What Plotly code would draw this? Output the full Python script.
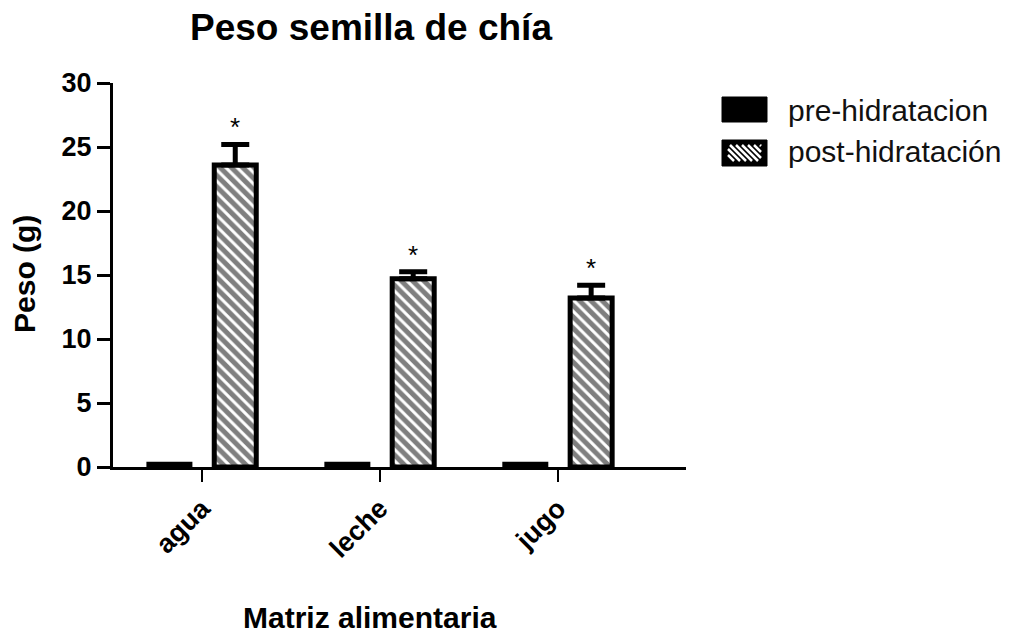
import plotly.graph_objects as go

# Chia seed weight per food matrix, before and after hydration
categories = ["agua", "leche", "jugo"]
pre_hidratacion = [0.25, 0.25, 0.25]
post_hidratacion = [23.6, 14.7, 13.2]
post_sem = [1.6, 0.55, 1.0]
significance = ["*", "*", "*"]
y_ticks = [0, 5, 10, 15, 20, 25, 30]
legend_labels = ["pre-hidratacion", "post-hidratación"]

W, H = 1022, 633
L, R, T, B = 113, 336, 83, 166
PW, PH = W - L - R, H - T - B

FONT = "Liberation Sans, Arial, sans-serif"

x_pos = list(range(len(categories)))
BAR_W = 0.236
PRE_SHIFT = -0.183
POST_SHIFT = 0.187


def px_x(px):
    return (px - L) / PW


def px_y(py):
    return (H - B - py) / PH


fig = go.Figure()

fig.add_trace(go.Bar(
    x=x_pos, y=pre_hidratacion, width=BAR_W, offset=PRE_SHIFT - BAR_W / 2,
    name=legend_labels[0], showlegend=False,
    marker=dict(color="black", line=dict(color="black", width=4)),
))

fig.add_trace(go.Bar(
    x=x_pos, y=post_hidratacion, width=BAR_W, offset=POST_SHIFT - BAR_W / 2,
    name=legend_labels[1], showlegend=False,
    marker=dict(
        color="white",
        line=dict(color="black", width=5),
        pattern=dict(shape="\\", fgcolor="black", bgcolor="white", size=8, solidity=0.62),
    ),
    error_y=dict(type="data", symmetric=False, array=post_sem,
                 arrayminus=[0] * len(post_sem),
                 color="black", thickness=5, width=14),
))

annotations = []
# significance marks above the post-hydration bars
for i, (v, e, s) in enumerate(zip(post_hidratacion, post_sem, significance)):
    annotations.append(dict(
        x=i + POST_SHIFT, y=v + e, xref="x", yref="y", text=s, showarrow=False,
        yanchor="bottom", yshift=0, font=dict(family=FONT, size=26, color="black"),
    ))

# axis titles
annotations.append(dict(
    x=px_x(370), y=px_y(617), xref="paper", yref="paper", text="Matriz alimentaria",
    showarrow=False, xanchor="center", yanchor="middle",
    font=dict(family=FONT, size=30, color="black", weight="bold"),
))
annotations.append(dict(
    x=px_x(24), y=px_y(274), xref="paper", yref="paper", text="Peso (g)",
    showarrow=False, xanchor="center", yanchor="middle", textangle=-90,
    font=dict(family=FONT, size=30, color="black", weight="bold"),
))

# legend entries
legend_rows = [110, 151]
for lbl, cy in zip(legend_labels, legend_rows):
    annotations.append(dict(
        x=px_x(786), y=px_y(cy), xref="paper", yref="paper", text=lbl,
        showarrow=False, xanchor="left", yanchor="middle",
        font=dict(family=FONT, size=30, color="#111111"),
    ))

shapes = []
# filled key for pre-hidratacion
shapes.append(dict(type="rect", xref="paper", yref="paper",
                   x0=px_x(722), x1=px_x(767), y0=px_y(122), y1=px_y(97),
                   fillcolor="black", line=dict(color="black", width=1)))
# hatched key for post-hidratación
kx0, kx1, ky0, ky1 = 722, 767, 140, 166
shapes.append(dict(type="rect", xref="paper", yref="paper",
                   x0=px_x(kx0), x1=px_x(kx1), y0=px_y(ky1), y1=px_y(ky0),
                   fillcolor="black", line=dict(color="black", width=1)))
ix0, ix1, iy0, iy1 = 728, 761, 145, 161
hgt = iy1 - iy0
c = ix0 - hgt
while c < ix1:
    xa = max(ix0, c)
    xb = min(ix1, c + hgt)
    if xb > xa:
        ya = iy0 + (xa - c)
        yb = iy0 + (xb - c)
        shapes.append(dict(type="line", xref="paper", yref="paper",
                           x0=px_x(xa), y0=px_y(ya), x1=px_x(xb), y1=px_y(yb),
                           line=dict(color="white", width=2.5)))
    c += 6

fig.update_layout(
    width=W, height=H,
    margin=dict(l=L, r=R, t=T, b=B, pad=0),
    paper_bgcolor="white", plot_bgcolor="white",
    barmode="overlay",
    showlegend=False,
    title=dict(text="Peso semilla de chía", xref="container", yref="container",
               x=371 / W, y=1 - 27 / H, xanchor="center", yanchor="middle",
               font=dict(family=FONT, size=37, color="black", weight="bold")),
    xaxis=dict(
        range=[-0.5, 2.72], tickmode="array", tickvals=x_pos, ticktext=categories,
        tickangle=-45, ticks="outside", ticklen=12, tickwidth=2, tickcolor="black",
        showline=True, linecolor="black", linewidth=3, showgrid=False, zeroline=False,
        tickfont=dict(family=FONT, size=27, color="black", weight="bold"),
    ),
    yaxis=dict(
        range=[0, 30], tickmode="array", tickvals=y_ticks,
        ticks="outside", ticklen=13, tickwidth=3, tickcolor="black",
        showline=True, linecolor="black", linewidth=3, showgrid=False, zeroline=False,
        tickfont=dict(family=FONT, size=27, color="black", weight="bold"),
    ),
    annotations=annotations,
    shapes=shapes,
)

fig.write_html("out.html")
